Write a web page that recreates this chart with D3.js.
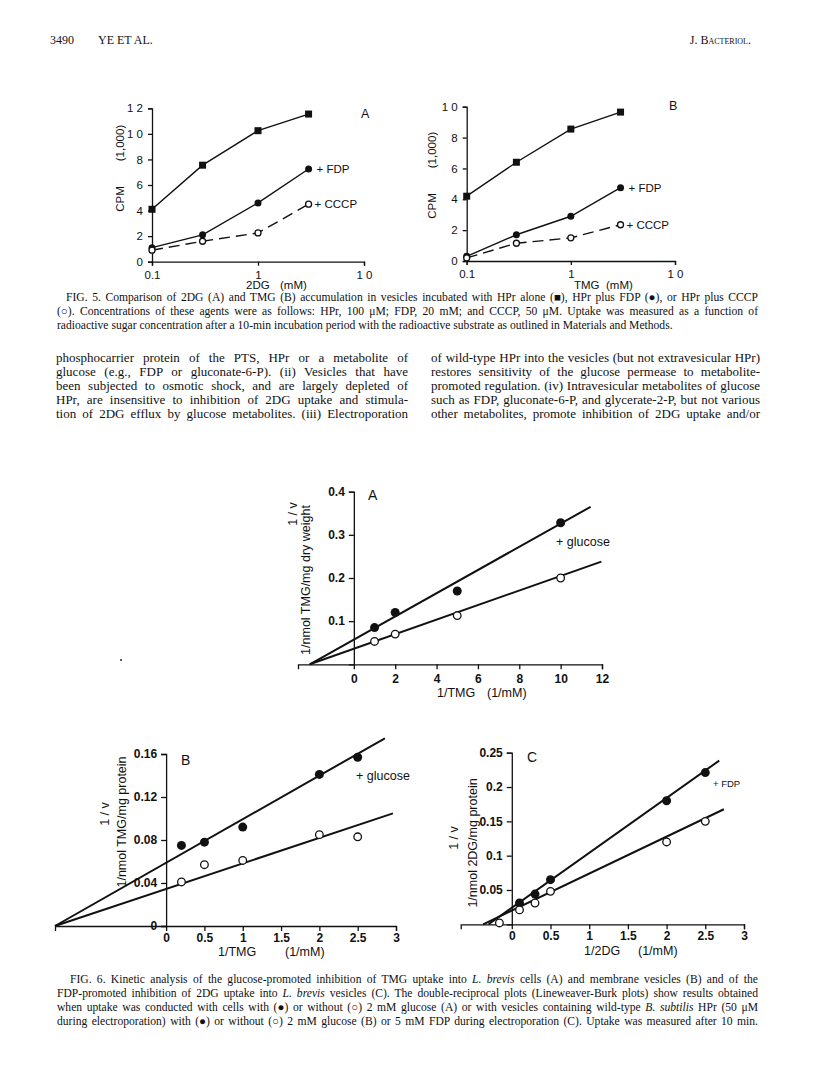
<!DOCTYPE html>
<html>
<head>
<meta charset="utf-8">
<script src="https://cdn.jsdelivr.net/npm/d3@7"></script>
<style>
  body { margin: 0; background: #fff; }
  svg { display: block; }
  .serif { font-family: "Liberation Serif", "Times New Roman", serif; fill: #111; }
  .sans { font-family: "Liberation Sans", Arial, Helvetica, sans-serif; fill: #111; }
  .axis path, .axis line { stroke: #111; stroke-width: 1.3; }
  .axis text { font-family: "Liberation Sans", Arial, sans-serif; fill: #111; }
</style>
</head>
<body>
<svg id="page" width="816" height="1092"></svg>
<script>
// ---- Fig. 5 data (CPM x 1,000 vs sugar mM) ----
var fig5Conc = [0.1, 0.3, 1, 3];
var fig5A_HPr  = [4.1, 7.55, 10.25, 11.55];
var fig5A_FDP  = [1.1, 2.1, 4.6, 7.25];
var fig5A_CCCP = [0.9, 1.6, 2.25, 4.5];
var fig5B_HPr  = [4.2, 6.4, 8.55, 9.65];
var fig5B_FDP  = [0.3, 1.7, 2.9, 4.75];
var fig5B_CCCP = [0.2, 1.15, 1.5, 2.35];
var fig5XTicks = [0.1, 1, 10];
var fig5XLabels = ["0.1", "1", "1 0"];
var fig5AYTicks = [0, 2, 4, 6, 8, 10, 12];
var fig5AYLabels = ["0", "2", "4", "6", "8", "1 0", "1 2"];
var fig5BYTicks = [0, 2, 4, 6, 8, 10];
var fig5BYLabels = ["0", "2", "4", "6", "8", "1 0"];

// ---- Fig. 6 data (Lineweaver-Burk) ----
var fig6A_x    = [1, 2, 5, 10];
var fig6A_glc  = [0.085, 0.12, 0.17, 0.328];
var fig6A_ctrl = [0.053, 0.07, 0.113, 0.2];
var fig6A_fitGlc  = [[-2.13, 0], [11.45, 0.365]];
var fig6A_fitCtrl = [[-2.13, 0], [11.97, 0.238]];
var fig6A_xTicks = [0, 2, 4, 6, 8, 10, 12];
var fig6A_yTicks = [0.1, 0.2, 0.3, 0.4];

var fig6B_x    = [0.2, 0.5, 1, 2, 2.5];
var fig6B_glc  = [0.075, 0.078, 0.092, 0.141, 0.157];
var fig6B_ctrl = [0.041, 0.057, 0.061, 0.085, 0.083];
var fig6B_fitGlc  = [[-1.45, 0], [2.855, 0.1746]];
var fig6B_fitCtrl = [[-1.45, 0], [2.96, 0.1048]];
var fig6B_yTicks = [0, 0.04, 0.08, 0.12, 0.16];

var fig6C_xFdp  = [0.1, 0.3, 0.5, 2, 2.5];
var fig6C_fdp   = [0.031, 0.044, 0.065, 0.18, 0.221];
var fig6C_xCtrl = [-0.16, 0.1, 0.3, 0.5, 2, 2.5];
var fig6C_ctrl  = [0.002, 0.021, 0.031, 0.048, 0.12, 0.15];
var fig6C_fitFdp  = [[-0.30, 0], [2.68, 0.2385]];
var fig6C_fitCtrl = [[-0.37, 0], [2.74, 0.1676]];
var fig6C_yTicks = [0.05, 0.1, 0.15, 0.2, 0.25];
var fig6BC_xTicks = [0, 0.5, 1, 1.5, 2, 2.5, 3];

var svg = d3.select("#page");
svg.append("rect").attr("width", 816).attr("height", 1092).attr("fill", "#fff");

function zip(xs, ys) { return xs.map(function(x, i) { return [x, ys[i]]; }); }

function markers(g, x, y, pts, kind, r) {
  pts.forEach(function(p) {
    var cx = x(p[0]), cy = y(p[1]);
    if (kind == "square") {
      g.append("rect").attr("x", cx - r).attr("y", cy - r)
        .attr("width", 2 * r).attr("height", 2 * r).attr("fill", "#111");
    } else if (kind == "filled") {
      g.append("circle").attr("cx", cx).attr("cy", cy).attr("r", r).attr("fill", "#111");
    } else {
      g.append("circle").attr("cx", cx).attr("cy", cy).attr("r", r)
        .attr("fill", "#fff").attr("stroke", "#111").attr("stroke-width", 1.3);
    }
  });
}

function txt(x, y, s, size, cls, anchor, rot) {
  var t = svg.append("text").attr("class", cls || "sans")
    .attr("font-size", size).attr("text-anchor", anchor || "start").text(s);
  if (rot) t.attr("transform", "translate(" + x + "," + y + ") rotate(-90)");
  else t.attr("x", x).attr("y", y);
  return t;
}

// ---------- Fig 5 panels ----------
function fig5Panel(opt) {
  var x = d3.scaleLog().domain([0.1, 10]).range(opt.xr);
  var y = d3.scaleLinear().domain([0, opt.ymax]).range(opt.yr);
  var g = svg.append("g");

  g.append("g").attr("class", "axis").attr("transform", "translate(0," + opt.yr[0] + ")")
    .call(d3.axisBottom(x).tickValues(fig5XTicks).tickSizeOuter(0).tickSize(4).tickPadding(5)
      .tickFormat(function(d, i) { return fig5XLabels[i]; }))
    .selectAll("text").attr("font-size", 11.5);
  g.append("g").attr("class", "axis").attr("transform", "translate(" + opt.xr[0] + ",0)")
    .call(d3.axisLeft(y).tickValues(opt.yTicks).tickSizeOuter(0).tickSize(4).tickPadding(5)
      .tickFormat(function(d, i) { return opt.yLabels[i]; }))
    .selectAll("text").attr("font-size", 11.5);

  var line = d3.line().x(function(d) { return x(d[0]); }).y(function(d) { return y(d[1]); });
  var hpr = zip(fig5Conc, opt.hpr), fdp = zip(fig5Conc, opt.fdp), cccp = zip(fig5Conc, opt.cccp);
  g.append("path").attr("d", line(hpr)).attr("fill", "none").attr("stroke", "#111").attr("stroke-width", 1.4);
  g.append("path").attr("d", line(fdp)).attr("fill", "none").attr("stroke", "#111").attr("stroke-width", 1.4);
  g.append("path").attr("d", line(cccp)).attr("fill", "none").attr("stroke", "#111")
    .attr("stroke-width", 1.4).attr("stroke-dasharray", "11,6");
  markers(g, x, y, hpr, "square", 3.5);
  markers(g, x, y, fdp, "filled", 3.5);
  markers(g, x, y, cccp, "open", 3);

  var last = fig5Conc.length - 1;
  txt(x(fig5Conc[last]) + 8, y(opt.fdp[last]) + 4, "+ FDP", 11.5);
  txt(x(fig5Conc[last]) + 6, y(opt.cccp[last]) + 4, "+ CCCP", 11.5);
  txt(opt.letter[0], opt.letter[1], opt.letterText, 12.5);
  txt(opt.ylab, opt.cpmY, "CPM", 11.5, "sans", "middle", true);
  txt(opt.ylab, opt.kY, "(1,000)", 11.5, "sans", "middle", true);
  txt(opt.xlab[0], 289, opt.sugar, 11.5);
  txt(opt.xlab[1], 289, "(mM)", 11.5);
}

fig5Panel({ xr: [152, 364], yr: [261.7, 108.3], ymax: 12, yTicks: fig5AYTicks, yLabels: fig5AYLabels,
  hpr: fig5A_HPr, fdp: fig5A_FDP, cccp: fig5A_CCCP, letter: [361, 118], letterText: "A",
  ylab: 124, cpmY: 199, kY: 143, xlab: [246, 280], sugar: "2DG" });
fig5Panel({ xr: [466.7, 675], yr: [261, 106.7], ymax: 10, yTicks: fig5BYTicks, yLabels: fig5BYLabels,
  hpr: fig5B_HPr, fdp: fig5B_FDP, cccp: fig5B_CCCP, letter: [669, 110], letterText: "B",
  ylab: 436, cpmY: 206, kY: 150, xlab: [574, 606], sugar: "TMG" });

// ---------- Fig 6 panels ----------
function fig6Panel(opt) {
  var x = d3.scaleLinear().domain(opt.xd).range(opt.xr);
  var y = d3.scaleLinear().domain(opt.yd).range(opt.yr);
  var g = svg.append("g");

  g.append("g").attr("class", "axis").attr("transform", "translate(0," + opt.yr[0] + ")")
    .call(d3.axisBottom(x).tickValues(opt.xTicks).tickSizeOuter(0).tickSize(5).tickPadding(opt.xPad)
      .tickFormat(d3.format("")))
    .selectAll("text").attr("font-size", 12).attr("font-weight", "bold");
  g.append("g").attr("class", "axis").attr("transform", "translate(" + x(0) + ",0)")
    .call(d3.axisLeft(y).tickValues(opt.yTicks).tickSizeOuter(0).tickSize(5).tickPadding(4)
      .tickFormat(d3.format("")))
    .selectAll("text").attr("font-size", 12).attr("font-weight", "bold");

  var line = d3.line().x(function(d) { return x(d[0]); }).y(function(d) { return y(d[1]); });
  opt.fits.forEach(function(f) {
    g.append("path").attr("d", line(f)).attr("fill", "none").attr("stroke", "#111").attr("stroke-width", 2);
  });
  markers(g, x, y, opt.filled, "filled", 4.5);
  markers(g, x, y, opt.open, "open", 3.8);
}

fig6Panel({ xd: [-2.7, 12], xr: [298, 602], yd: [0, 0.4], yr: [664.3, 491.7], xPad: 5,
  xTicks: fig6A_xTicks, yTicks: fig6A_yTicks, fits: [fig6A_fitGlc, fig6A_fitCtrl],
  filled: zip(fig6A_x, fig6A_glc), open: zip(fig6A_x, fig6A_ctrl) });
fig6Panel({ xd: [-1.45, 3], xr: [55, 396], yd: [0, 0.16], yr: [926, 754], xPad: 2,
  xTicks: fig6BC_xTicks, yTicks: fig6B_yTicks, fits: [fig6B_fitGlc, fig6B_fitCtrl],
  filled: zip(fig6B_x, fig6B_glc), open: zip(fig6B_x, fig6B_ctrl) });
fig6Panel({ xd: [-0.66, 3], xr: [460.7, 744], yd: [0, 0.25], yr: [924.3, 752.7], xPad: 2,
  xTicks: fig6BC_xTicks, yTicks: fig6C_yTicks, fits: [fig6C_fitFdp, fig6C_fitCtrl],
  filled: zip(fig6C_xFdp, fig6C_fdp), open: zip(fig6C_xCtrl, fig6C_ctrl) });

// fig 6 labels
txt(368, 500, "A", 14);
txt(556, 546, "+ glucose", 12.5);
txt(297, 514, "1 / v", 12.5, "sans", "middle", true);
txt(310, 580, "1/nmol  TMG/mg  dry  weight", 12.5, "sans", "middle", true);
txt(437, 697, "1/TMG", 12.5);
txt(487, 697, "(1/mM)", 12.5);

txt(181, 765, "B", 14);
txt(356, 780, "+ glucose", 12.5);
txt(109, 814, "1 / v", 12.5, "sans", "middle", true);
txt(126, 822, "1/nmol  TMG/mg  protein", 12.5, "sans", "middle", true);
txt(218, 956, "1/TMG", 12.5);
txt(285, 956, "(1/mM)", 12.5);

txt(527, 762, "C", 14);
txt(713, 787, "+ FDP", 9.5);
txt(458, 838, "1 / v", 12.5, "sans", "middle", true);
txt(477, 843, "1/nmol  2DG/mg  protein", 12.5, "sans", "middle", true);
txt(584, 955, "1/2DG", 12.5);
txt(638, 955, "(1/mM)", 12.5);

// speck on the scan
svg.append("circle").attr("cx", 121).attr("cy", 660).attr("r", 1.1).attr("fill", "#333");

// ---------- page text ----------
// one line of type, parts = [[text, italic?], ...], optionally justified to width
function textLine(x, y, width, parts, size, justify) {
  var t = svg.append("text").attr("class", "serif").attr("x", x).attr("y", y).attr("font-size", size);
  parts.forEach(function(p) {
    var s = t.append("tspan").text(p[0]);
    if (p[1]) s.attr("font-style", "italic");
  });
  if (justify) {
    var nat = t.node().getComputedTextLength();
    var full = parts.map(function(p) { return p[0]; }).join("");
    var spaces = (full.match(/ /g) || []).length;
    if (spaces > 0) t.attr("word-spacing", (width - nat) / spaces);
  }
}

txt(50, 44, "3490", 12, "serif");
txt(98, 44, "YE ET AL.", 12, "serif");
txt(751, 44, "J. Bacteriol.", 12, "serif", "end").attr("font-variant", "small-caps");

var cap5 = [
  [["FIG. 5. Comparison of 2DG (A) and TMG (B) accumulation in vesicles incubated with HPr alone (\u25A0), HPr plus FDP (\u25CF), or HPr plus CCCP"]],
  [["(\u25CB). Concentrations of these agents were as follows: HPr, 100 \u03BCM; FDP, 20 mM; and CCCP, 50 \u03BCM. Uptake was measured as a function of"]],
  [["radioactive sugar concentration after a 10-min incubation period with the radioactive substrate as outlined in Materials and Methods."]]
];
textLine(66, 301, 692, cap5[0], 11.6, true);
textLine(57, 315, 701, cap5[1], 11.6, true);
textLine(57, 329, 701, cap5[2], 11.6, false);

var bodyLeft = [
  "phosphocarrier protein of the PTS, HPr or a metabolite of",
  "glucose (e.g., FDP or gluconate-6-P). (ii) Vesicles that have",
  "been subjected to osmotic shock, and are largely depleted of",
  "HPr, are insensitive to inhibition of 2DG uptake and stimula-",
  "tion of 2DG efflux by glucose metabolites. (iii) Electroporation"
];
var bodyRight = [
  "of wild-type HPr into the vesicles (but not extravesicular HPr)",
  "restores sensitivity of the glucose permease to metabolite-",
  "promoted regulation. (iv) Intravesicular metabolites of glucose",
  "such as FDP, gluconate-6-P, and glycerate-2-P, but not various",
  "other metabolites, promote inhibition of 2DG uptake and/or"
];
bodyLeft.forEach(function(s, i) { textLine(56, 362 + i * 14, 352, [[s]], 13, true); });
bodyRight.forEach(function(s, i) { textLine(431, 362 + i * 14, 329, [[s]], 13, true); });

var cap6 = [
  [["FIG. 6. Kinetic analysis of the glucose-promoted inhibition of TMG uptake into "], ["L. brevis", 1], [" cells (A) and membrane vesicles (B) and of the"]],
  [["FDP-promoted inhibition of 2DG uptake into "], ["L. brevis", 1], [" vesicles (C). The double-reciprocal plots (Lineweaver-Burk plots) show results obtained"]],
  [["when uptake was conducted with cells with (\u25CF) or without (\u25CB) 2 mM glucose (A) or with vesicles containing wild-type "], ["B. subtilis", 1], [" HPr (50 \u03BCM"]],
  [["during electroporation) with (\u25CF) or without (\u25CB) 2 mM glucose (B) or 5 mM FDP during electroporation (C). Uptake was measured after 10 min."]]
];
textLine(70, 983, 688, cap6[0], 11.6, true);
textLine(57, 997, 701, cap6[1], 11.6, true);
textLine(57, 1011, 701, cap6[2], 11.6, true);
textLine(57, 1025, 701, cap6[3], 11.6, true);
</script>
</body>
</html>
